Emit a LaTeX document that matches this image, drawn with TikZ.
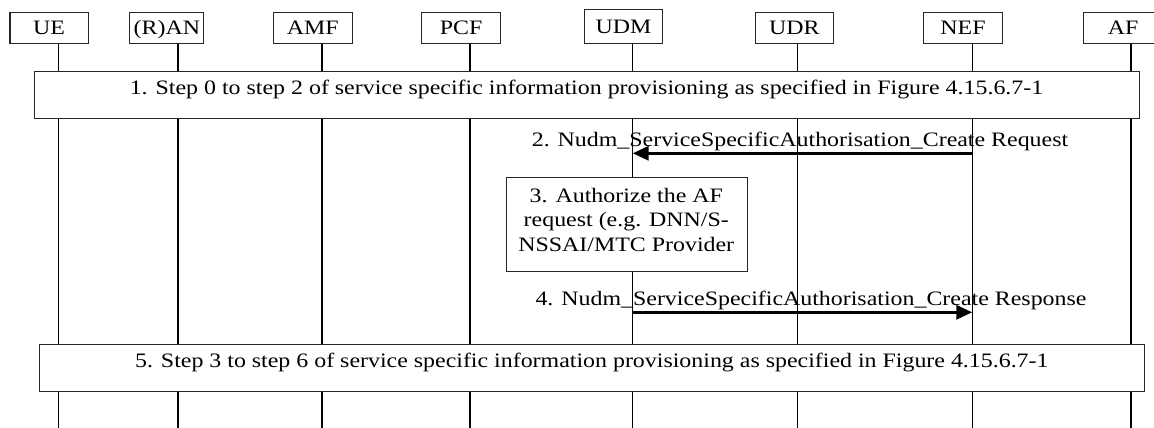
\documentclass[tikz,border=0pt]{standalone}
\usepackage{fontspec}
\setmainfont{Liberation Serif}[FakeStretch=1.166]
\usetikzlibrary{arrows.meta}
\begin{document}
\begin{tikzpicture}[x=1pt,y=-1pt,
  font=\fontsize{20.5}{24.7}\selectfont,
  hbox/.style={draw=black!85, line width=1.1pt, anchor=north west, inner sep=0pt,
    minimum height=31.3pt, text height=14pt, text depth=0pt},
  life/.style={line width=1.2pt},
  stepbox/.style={draw=black!85, line width=1.1pt, fill=white, anchor=north west, inner sep=0pt},
  txt/.style={inner sep=0pt, anchor=base},
  msg/.style={line width=3pt, -{Triangle[length=16pt,width=14pt]}}]
\useasboundingbox (0,0) rectangle (1154,428);
% header boxes
\node[hbox, minimum width=78.4pt] (ue)  at (9.4,11.7)   {UE};
\node[hbox, minimum width=74pt]   (ran) at (129.3,11.7) {(R)AN};
\node[hbox, minimum width=78.5pt] (amf) at (273,11.7)   {AMF};
\node[hbox, minimum width=79pt]   (pcf) at (421,11.7)   {PCF};
\node[hbox, minimum width=77.4pt, minimum height=33.7pt] (udm) at (584.3,9.3) {UDM};
\node[hbox, minimum width=77.7pt] (udr) at (755,11.7)   {UDR};
\node[hbox, minimum width=79pt]   (nef) at (923,11.7)   {NEF};
\node[hbox, minimum width=79pt]   (af)  at (1083,11.7)  {AF};
% lifeline ends
\coordinate (ueE)  at (58.7,428);
\coordinate (ranE) at (178,428);
\coordinate (amfE) at (322,428);
\coordinate (pcfE) at (470,428);
\coordinate (udmE) at (632.7,428);
\coordinate (udrE) at (797.7,428);
\coordinate (nefE) at (972.3,428);
\coordinate (afE)  at (1131,428);
\foreach \n in {ue,ran,amf,pcf,udm,udr,nef,af}
  \draw[life] (\n E |- \n.south) -- (\n E);
% step 1
\node[stepbox, minimum width=1105pt, minimum height=47pt] (s1) at (34,70.7) {};
\node[txt] (s1t) at (586.5,94) {1. Step 0 to step 2 of service specific information provisioning as specified in Figure 4.15.6.7-1};
% step 2
\coordinate (a2s) at (nefE |- 0,153.3);
\coordinate (a2e) at (udmE |- 0,153.3);
\draw[msg] (a2s) -- (a2e);
\node[txt] (m2) at (800,146) {2. Nudm\_ServiceSpecificAuthorisation\_Create Request};
% step 3
\node[stepbox, minimum width=240.7pt, minimum height=94.3pt] (s3) at (506,176.7) {};
\node[inner sep=0pt, anchor=north, align=center] (s3t) at (626.3,187.7)
  {3. Authorize the AF\\request (e.g. DNN/S-\\NSSAI/MTC Provider};
% step 4
\coordinate (a4s) at (udmE |- 0,312.3);
\coordinate (a4e) at (nefE |- 0,312.3);
\draw[msg] (a4s) -- (a4e);
\node[txt] (m4) at (811,305) {4. Nudm\_ServiceSpecificAuthorisation\_Create Response};
% step 5
\node[stepbox, minimum width=1105pt, minimum height=46.5pt] (s5) at (39.3,344.2) {};
\node[txt] (s5t) at (591.8,367.3) {5. Step 3 to step 6 of service specific information provisioning as specified in Figure 4.15.6.7-1};
\end{tikzpicture}
\end{document}
